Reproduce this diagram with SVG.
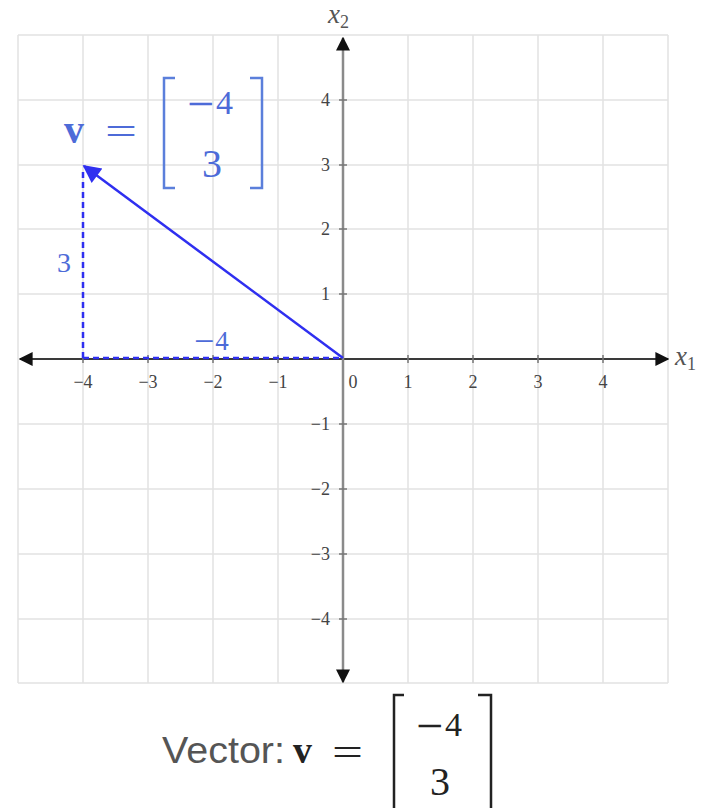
<svg xmlns="http://www.w3.org/2000/svg" width="713" height="808" viewBox="0 0 713 808">
<style>
.grid{stroke:#e2e2e2;stroke-width:1.5;fill:none}
.axis{stroke:#3a3a3a;stroke-width:2;fill:none}
.yaxis{stroke:#8a8a8a;stroke-width:2.5;fill:none}
.tick{stroke:#777;stroke-width:1.5}
.tl{font-size:18px;fill:#444}
.axl{font-style:italic;fill:#555}
.vec{stroke:#2f2ff0;stroke-width:2.5;fill:none}
.dash{stroke:#2f2ff0;stroke-width:2.5;fill:none;stroke-dasharray:6 4}
.bl{fill:#4d6bd8}
.br{stroke:#5b7fdb;stroke-width:2.5;fill:none}
.cap{fill:#222}
.capb{stroke:#222;stroke-width:2.5;fill:none}
</style>
<defs>
<marker id="ah" viewBox="0 0 10 10" refX="9" refY="5" markerWidth="14" markerHeight="14" markerUnits="userSpaceOnUse" orient="auto"><path d="M0,0 L10,5 L0,10 z" fill="#111"/></marker>
<marker id="va" viewBox="0 0 10 10" refX="9" refY="5" markerWidth="20" markerHeight="18" markerUnits="userSpaceOnUse" orient="auto"><path d="M0,0 L10,5 L0,10 z" fill="#2f2ff0"/></marker>
</defs>
<rect width="713" height="808" fill="#fff"/>
<g id="grid">
<path class="grid" d="M18,35V683M83,35V683M148,35V683M213,35V683M278,35V683M408,35V683M473,35V683M538,35V683M603,35V683M668,35V683"/>
<path class="grid" d="M18,35H668M18,100H668M18,165H668M18,229H668M18,294H668M18,424H668M18,489H668M18,554H668M18,619H668M18,683H668"/>
</g>
<g id="axes" font-family="Liberation Serif, DejaVu Serif, serif">
<line class="axis" x1="343" y1="359" x2="20" y2="359" marker-end="url(#ah)"/>
<line class="axis" x1="343" y1="359" x2="668" y2="359" marker-end="url(#ah)"/>
<line class="yaxis" x1="343" y1="359" x2="343" y2="38" marker-end="url(#ah)"/>
<line class="yaxis" x1="343" y1="359" x2="343" y2="682" marker-end="url(#ah)"/>
<path class="tick" d="M83,355V363M148,355V363M213,355V363M278,355V363M408,355V363M473,355V363M538,355V363M603,355V363"/>
<path class="tick" d="M339,100H347M339,165H347M339,229H347M339,294H347M339,424H347M339,489H347M339,554H347M339,619H347"/>
<text class="axl" x="328" y="23" font-size="27">x<tspan font-size="18" font-style="normal" dy="5">2</tspan></text>
<text class="axl" x="675" y="365" font-size="27">x<tspan font-size="18" font-style="normal" dy="5">1</tspan></text>
</g>
<g id="ticklabels" class="tl" text-anchor="middle" font-family="Liberation Serif, DejaVu Serif, serif">
<text x="83" y="388">−4</text>
<text x="148" y="388">−3</text>
<text x="213" y="388">−2</text>
<text x="278" y="388">−1</text>
<text x="353" y="388">0</text>
<text x="408" y="388">1</text>
<text x="473" y="388">2</text>
<text x="538" y="388">3</text>
<text x="603" y="388">4</text>
</g>
<g id="yticklabels" class="tl" text-anchor="end" font-family="Liberation Serif, DejaVu Serif, serif">
<text x="330" y="106">4</text>
<text x="330" y="171">3</text>
<text x="330" y="235">2</text>
<text x="330" y="300">1</text>
<text x="330" y="430">−1</text>
<text x="330" y="495">−2</text>
<text x="330" y="560">−3</text>
<text x="330" y="625">−4</text>
</g>
<g id="connectors">
<line class="dash" x1="83" y1="358" x2="83" y2="168"/>
<line class="dash" x1="83" y1="358" x2="343" y2="358"/>
<line class="vec" x1="343" y1="358" x2="84" y2="166" marker-end="url(#va)"/>
</g>
<g id="component-labels" class="bl" font-family="Liberation Serif, DejaVu Serif, serif">
<text x="57" y="272" font-size="28">3</text>
<text x="194" y="350" font-size="27"><tspan font-size="36" dy="3">−</tspan><tspan dx="1" dy="-3">4</tspan></text>
</g>
<g id="vector-label" font-family="Liberation Serif, DejaVu Serif, serif">
<text class="bl" x="64" y="143" font-size="40" font-weight="bold">v</text>
<text class="bl" x="105" y="145" font-size="40" textLength="32" lengthAdjust="spacingAndGlyphs">=</text>
<path class="br" d="M175,78H164V188H175"/>
<path class="br" d="M250,78H262V188H250"/>
<text class="bl" x="187" y="114" font-size="34"><tspan font-size="48" dy="6">−</tspan><tspan dx="2" dy="-6">4</tspan></text>
<text class="bl" x="202" y="177" font-size="40">3</text>
</g>
<g id="caption" font-family="Liberation Serif, DejaVu Serif, serif">
<text x="162" y="763" font-family="Liberation Sans, Arial, sans-serif" font-size="37" fill="#555" textLength="123" lengthAdjust="spacingAndGlyphs">Vector:</text>
<text class="cap" x="293" y="763" font-size="38" font-weight="bold">v</text>
<text class="cap" x="332" y="766" font-size="40" textLength="31" lengthAdjust="spacingAndGlyphs">=</text>
<path class="capb" d="M404,695H394V808"/>
<path class="capb" d="M478,695H491V808"/>
<text class="cap" x="416" y="736" font-size="34"><tspan font-size="48" dy="6">−</tspan><tspan dx="2" dy="-6">4</tspan></text>
<text class="cap" x="430" y="795" font-size="40">3</text>
</g>
</svg>
